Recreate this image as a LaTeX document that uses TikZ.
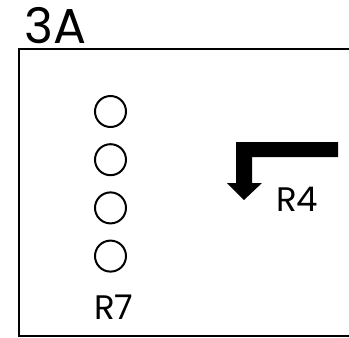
\documentclass[tikz,border=0pt]{standalone}
\usepackage{fontspec}
\setmainfont{Poppins}
\tikzset{%
  hole/.style={draw, circle, line width=2pt, minimum size=31pt, inner sep=0pt},
  room label/.style={inner sep=0pt, anchor=base west, font=\fontsize{34}{34}\selectfont},
  block label/.style={inner sep=0pt, anchor=base west, font=\fontsize{49}{49}\selectfont},
  wall/.style={line width=2pt},
}
\begin{document}
\begin{tikzpicture}[x=1pt,y=-1pt]
  \useasboundingbox (0,0) rectangle (349,338);
  % block outline, open to the right
  \draw[wall] (18.5,49) rectangle (360,336);
  \node[block label] (block) at (24,43) {3A};
  % column of holes
  \foreach \i in {1,...,4} {
    \node[hole] (hole\i) at (110.5,{111.5+48.2*(\i-1)}) {};
  }
  \node[room label] (r7) at (94,319) {R7};
  % bent arrow
  \fill (236,142) -- (338,142) -- (338,157) -- (252,157) -- (252,183)
    -- (262,183) -- (244,200) -- (227,183) -- (236,183) -- cycle;
  \node[room label] (r4) at (276,211) {R4};
\end{tikzpicture}
\end{document}
